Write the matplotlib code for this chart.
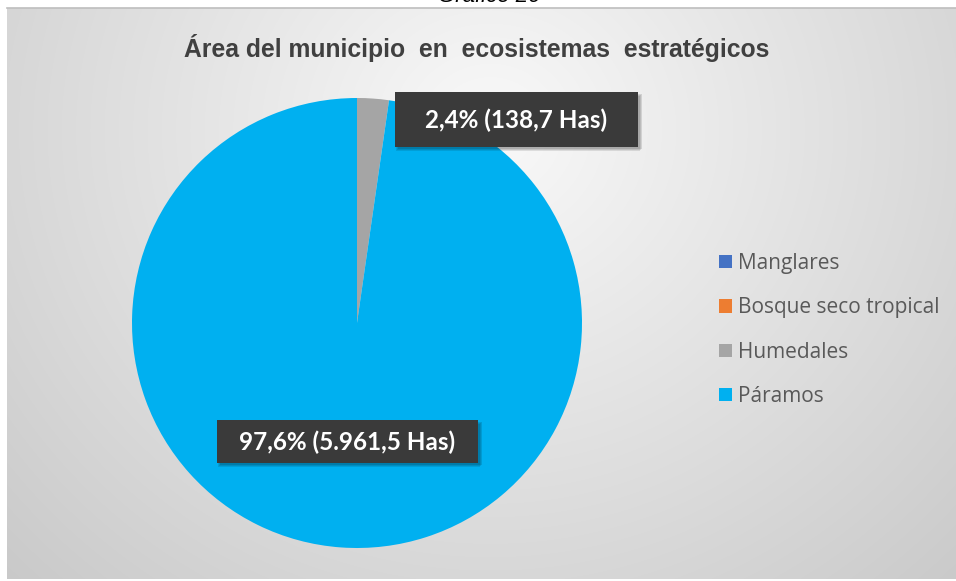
import numpy as np
import matplotlib
matplotlib.use("Agg")
import matplotlib.pyplot as plt
from matplotlib.patches import Patch, Rectangle

# ---- data ----
categories = ["Manglares", "Bosque seco tropical", "Humedales", "Páramos"]
areas_has = [0.0, 0.0, 138.7, 5961.5]
colors = ["#4472C4", "#ED7D31", "#A5A5A5", "#00B0F0"]
label_texts = ["", "", "2,4% (138,7 Has)", "97,6% (5.961,5 Has)"]
title = "Área del municipio  en  ecosistemas  estratégicos"
caption = "Gráfico 20"

W, H = 956, 581
fig = plt.figure(figsize=(W / 100, H / 100), dpi=100)
fig.patch.set_facecolor("white")

def fx(px):
    return px / W

def fy(py):
    return 1 - py / H

# ---- background gradient (chart area) ----
x0, y0, x1, y1 = 7, 8, 956, 579
bg = fig.add_axes([fx(x0), fy(y1), fx(x1 - x0), (y1 - y0) / H])
bg.set_axis_off()
xx, yy = np.meshgrid(np.arange(x0, x1), np.arange(y0, y1))
r = np.sqrt(((xx - 490) / 600.0) ** 2 + ((yy - 130) / 560.0) ** 2)
v = np.clip(249 - 42 * r, 0, 255) / 255.0
img = np.dstack([v, v, v])
bg.imshow(img, aspect="auto", extent=[0, 1, 0, 1], interpolation="bilinear")
bg.set_xlim(0, 1)
bg.set_ylim(0, 1)
fig.add_artist(plt.Line2D([fx(x0), 1], [fy(y0), fy(y0)], color="#BEBEBE", lw=1.2))

# ---- caption (cut off at top, as in the source page) ----
fig.text(fx(489), fy(2.5), caption, ha="center", va="baseline", fontsize=16,
         style="italic", family=["Liberation Sans", "DejaVu Sans"], color="black")

# ---- title ----
fig.text(fx(477), fy(48), title, ha="center", va="center", fontsize=17.8,
         fontweight="bold", color="#404040",
         family=["Liberation Sans Narrow", "Liberation Sans", "DejaVu Sans"])

# ---- pie ----
cx, cy, R = 357, 323, 225
ax = fig.add_axes([fx(cx - R), fy(cy + R), 2 * R / W, 2 * R / H])
ax.set_axis_off()
ax.pie(areas_has, colors=colors, startangle=90, counterclock=False, radius=1,
       wedgeprops=dict(linewidth=0))
ax.set_xlim(-1, 1)
ax.set_ylim(-1, 1)

# ---- data labels ----
def label_box(xa, ya, xb, yb, text):
    # soft shadow
    for i, a in enumerate([0.10, 0.10, 0.12]):
        g = 4 - i
        fig.add_artist(Rectangle((fx(xa + 1 + i), fy(yb + g)), (xb - xa + 1) / W,
                                 (yb - ya) / H, transform=fig.transFigure,
                                 facecolor="black", alpha=a, edgecolor="none"))
    fig.add_artist(Rectangle((fx(xa), fy(yb)), (xb - xa) / W, (yb - ya) / H,
                             transform=fig.transFigure, facecolor="#3A3A3A",
                             edgecolor="none"))
    fig.text(fx((xa + xb) / 2), fy((ya + yb) / 2 + 1), text, ha="center", va="center",
             fontsize=17.5, fontweight="bold", color="white",
             family=["Lato", "DejaVu Sans"])

label_box(395, 92, 638, 147, label_texts[2])
label_box(217, 420, 478, 463, label_texts[3])

# ---- legend ----
handles = [Patch(facecolor=c, edgecolor="none") for c in colors]
leg = fig.legend(handles, categories, loc="upper left",
                 bbox_to_anchor=(fx(719), fy(253)), frameon=False,
                 handlelength=0.6, handleheight=0.6, handletextpad=0.3,
                 labelspacing=1.12, borderaxespad=0, borderpad=0,
                 prop=dict(family=["Open Sans", "DejaVu Sans"], size=15))
for t in leg.get_texts():
    t.set_color("#595959")

fig.savefig("out.png", dpi=100)
